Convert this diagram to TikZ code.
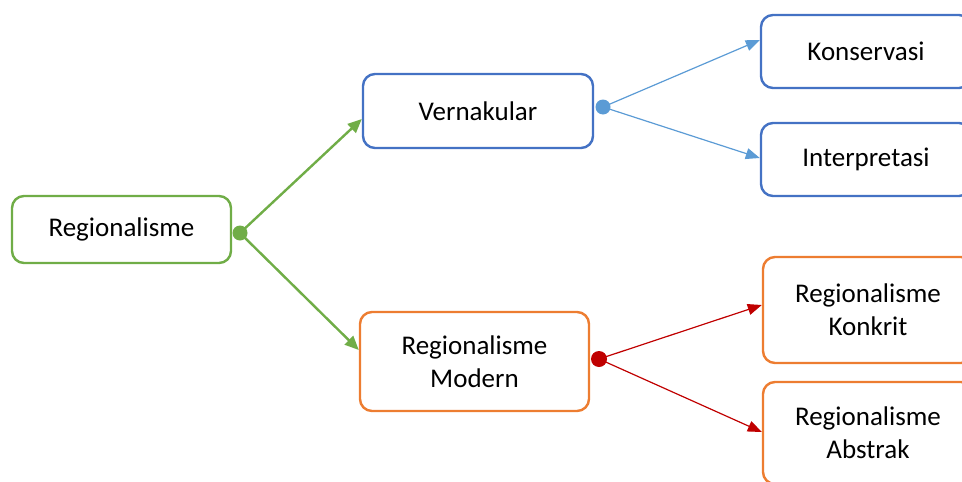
\documentclass[tikz,border=0pt]{standalone}
\usepackage{fontspec}
\setmainfont{Carlito}
\usetikzlibrary{arrows.meta,calc}
\definecolor{cgreen}{HTML}{70AD47}
\definecolor{cblue}{HTML}{4472C4}
\definecolor{clblue}{HTML}{5B9BD5}
\definecolor{corange}{HTML}{ED7D31}
\definecolor{cred}{HTML}{C00000}
\tikzset{
  box/.style={draw, line width=2.4pt, rounded corners=12pt, fill=white, align=center,
    font=\fontsize{27}{33}\selectfont, inner sep=0pt},
  gbox/.style={box, draw=cgreen},
  bbox/.style={box, draw=cblue},
  obox/.style={box, draw=corange},
  garrow/.style={cgreen, line width=2.4pt, -{Triangle[length=14pt,width=12pt]}},
  barrow/.style={clblue, line width=1.2pt, -{Triangle[length=14pt,width=11pt]}},
  rarrow/.style={cred, line width=1.2pt, -{Triangle[length=14pt,width=11pt]}},
}
\begin{document}
\begin{tikzpicture}[x=1pt,y=-1pt]
\useasboundingbox (0,0) rectangle (962,482);
\clip (0,0) rectangle (962,482);
\node[gbox, minimum width=219pt, minimum height=67pt] (reg) at (121.5,229.5) {Regionalisme};
\node[bbox, minimum width=230pt, minimum height=74pt] (vern) at (478,111) {Vernakular};
\node[obox, minimum width=229pt, minimum height=99pt] (mod) at (474.5,361.5) {Regionalisme\\Modern};
\node[bbox, minimum width=210pt, minimum height=73pt] (kons) at (866,51.5) {Konservasi};
\node[bbox, minimum width=210pt, minimum height=73pt] (intp) at (866,159.5) {Interpretasi};
\node[obox, minimum width=210pt, minimum height=106pt] (konk) at (868,310) {Regionalisme\\Konkrit};
\node[obox, minimum width=210pt, minimum height=102pt] (abs) at (868,433) {Regionalisme\\Abstrak};
\coordinate (gd) at (240,233);
\coordinate (bd) at (603,107);
\coordinate (rd) at (599,359);
\draw[garrow] (gd) -- ($(vern.west)+(0,8)$);
\draw[garrow] (gd) -- ($(mod.west)+(0,-11.5)$);
\draw[barrow] (bd) -- ($(kons.west)+(0,-11.5)$);
\draw[barrow] (bd) -- ($(intp.west)+(0,-1.5)$);
\draw[rarrow] (rd) -- ($(konk.west)+(0,-5)$);
\draw[rarrow] (rd) -- ($(abs.west)+(0,-1)$);
\fill[cgreen] (gd) circle (7.5pt);
\fill[clblue] (bd) circle (7.5pt);
\fill[cred] (rd) circle (8pt);
\end{tikzpicture}
\end{document}
